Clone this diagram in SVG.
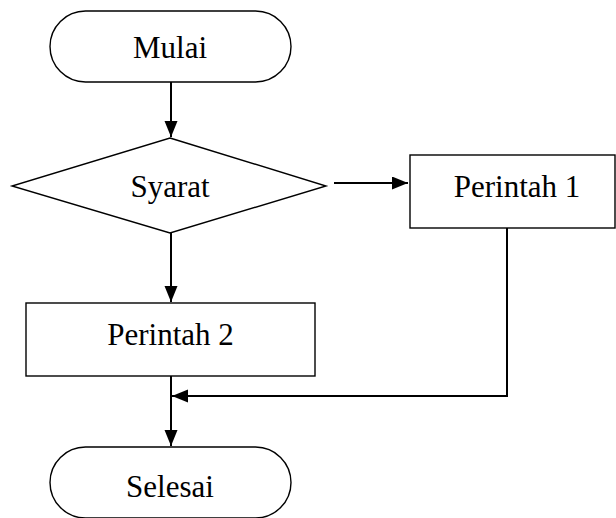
<svg xmlns="http://www.w3.org/2000/svg" width="616" height="518" viewBox="0 0 616 518">
<style>
.shape{fill:#fff;stroke:#000;stroke-width:1.4}
.lbl{font-family:"Liberation Serif","Times New Roman",serif;font-size:31px;fill:#000;text-anchor:middle}
.conn{fill:none;stroke:#000;stroke-width:2}
</style>
<defs>
<marker id="ah" markerUnits="userSpaceOnUse" markerWidth="16" markerHeight="14" refX="16" refY="6.5" orient="auto">
<path d="M0,0 L16,6.5 L0,13 z" fill="#000"/>
</marker>
</defs>
<rect width="616" height="518" fill="#fff"/>
<g id="connectors">
<line class="conn" x1="171" y1="82" x2="171" y2="137" marker-end="url(#ah)"/>
<line class="conn" x1="334" y1="183" x2="408" y2="183" marker-end="url(#ah)"/>
<line class="conn" x1="171" y1="233" x2="171" y2="302" marker-end="url(#ah)"/>
<polyline class="conn" points="507,228 507,396 172,396" marker-end="url(#ah)"/>
<line class="conn" x1="171" y1="376" x2="171" y2="446" marker-end="url(#ah)"/>
</g>
<g id="mulai">
<rect class="shape" x="50" y="11" width="241" height="71" rx="35.5" ry="35.5"/>
<text class="lbl" x="170" y="58">Mulai</text>
</g>
<g id="syarat">
<polygon class="shape" points="170,138 326,186 170,233 12,186"/>
<text class="lbl" x="170" y="197">Syarat</text>
</g>
<g id="perintah1">
<rect class="shape" x="410" y="155" width="205" height="73"/>
<text class="lbl" x="517" y="197">Perintah 1</text>
</g>
<g id="perintah2">
<rect class="shape" x="26" y="303" width="289" height="73"/>
<text class="lbl" x="170.5" y="345">Perintah 2</text>
</g>
<g id="selesai">
<rect class="shape" x="50" y="447" width="241" height="71" rx="35.5" ry="35.5"/>
<text class="lbl" x="170" y="497">Selesai</text>
</g>
</svg>
